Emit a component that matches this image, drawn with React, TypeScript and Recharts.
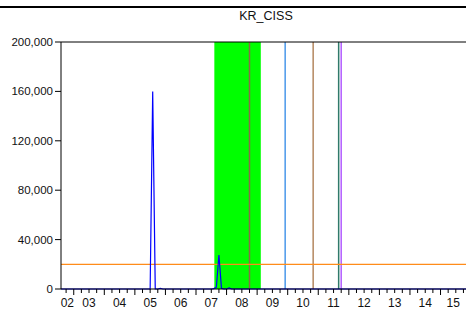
import { Line, LineChart, ReferenceArea, ReferenceLine, XAxis, YAxis } from "recharts";

// monthly series, first observation Aug 2002
const startYear = 2002;
const startMonth = 8;

const krCiss = [
  // 2002 (Aug-Dec)
  0, 0, 0, 0, 0,
  // 2003
  0, 0, 0, 0, 0, 0, 0, 0, 0, 0, 0, 0,
  // 2004
  0, 0, 0, 0, 0, 0, 0, 0, 0, 0, 0, 0,
  // 2005
  0, 0, 0, 0, 0, 0, 0, 160000, 0, 0, 600, 0,
  // 2006
  0, 0, 0, 0, 0, 0, 0, 0, 0, 0, 0, 0,
  // 2007
  0, 0, 0, 0, 0, 0, 0, 300, 1500, 27500, 500, 0,
  // 2008
  0, 900, 0, 0, 0, 0, 0, 0, 0, 0, 0, 0,
  // 2009
  0, 0, 0, 0, 0, 0, 0, 0, 0, 0, 0, 0,
  // 2010
  0, 0, 0, 0, 0, 0, 0, 0, 0, 0, 0, 0,
  // 2011
  0, 0, 0, 0, 0, 0, 0, 0, 0, 0, 0, 0,
  // 2012
  0, 0, 0, 0, 0, 0, 0, 0, 0, 0, 0, 0,
  // 2013
  0, 0, 0, 0, 0, 0, 0, 0, 0, 0, 0, 0,
  // 2014
  0, 0, 0, 0, 0, 0, 0, 0, 0, 0, 0, 0,
  // 2015 (Jan-Nov)
  0, 0, 0, 0, 0, 0, 0, 0, 0, 0, 0,
];

const yearLabels = ["02", "03", "04", "05", "06", "07", "08", "09", "10", "11", "12", "13", "14", "15"];
const yTicks = [0, 40000, 80000, 120000, 160000, 200000];

const threshold = 20000;
const crisisStart = 2007.6;
const crisisEnd = 2009.12;
const eventDates = [2008.75, 2009.917, 2010.833, 2011.667, 2011.75];
const eventColors = ["#8c6a48", "#4a98ea", "#b4875f", "#2f7a6a", "#b25cff"];

const data = krCiss.map((v, i) => ({
  t: startYear + (startMonth - 1 + i) / 12,
  v,
}));

const t0 = data[0].t;
const t1 = data[data.length - 1].t;

const quarterTicks: number[] = [];
for (let q = Math.ceil(t0 * 4); q <= Math.floor(t1 * 4); q++) quarterTicks.push(q / 4);

const labelPos = yearLabels.map((_, i) => {
  const yr = startYear + i;
  return (Math.max(yr, t0) + Math.min(yr + 1, t1)) / 2;
});

const xTicks = Array.from(new Set([...quarterTicks, ...labelPos])).sort((a, b) => a - b);

const near = (a: number, b: number) => Math.abs(a - b) < 1e-6;

function XTick(props: any) {
  const { x, y, payload } = props;
  const v = payload.value as number;
  const isQuarter = near(v * 4, Math.round(v * 4));
  const isYear = near(v, Math.round(v));
  const li = labelPos.findIndex((p) => near(p, v));
  return (
    <g>
      {isQuarter && (
        <line x1={x} x2={x} y1={y} y2={y + (isYear ? 6 : 4)} stroke="#000" strokeWidth={1} />
      )}
      {li >= 0 && (
        <text x={x} y={y + 18} textAnchor="middle" fontSize={12} fill="#111">
          {yearLabels[li]}
        </text>
      )}
    </g>
  );
}

const fmt = (n: number) => n.toLocaleString("en-US");

export default function App() {
  return (
    <div
      style={{
        position: "absolute",
        left: 0,
        top: 0,
        width: 466,
        height: 320,
        background: "#fff",
        fontFamily: "'Liberation Sans', Arial, sans-serif",
      }}
    >
      <div style={{ position: "absolute", left: 0, top: 6, width: 466, height: 2, background: "#000" }} />
      <div
        style={{
          position: "absolute",
          left: 166,
          width: 200,
          top: 9,
          textAlign: "center",
          fontSize: 12.5,
          color: "#111",
        }}
      >
        KR_CISS
      </div>
      <LineChart
        width={466}
        height={320}
        data={data}
        margin={{ top: 42, right: 0, bottom: 0, left: 0 }}
        style={{ position: "absolute", left: 0, top: 0 }}
      >
        <XAxis
          dataKey="t"
          type="number"
          domain={[t0, t1]}
          ticks={xTicks}
          interval={0}
          tick={<XTick />}
          tickSize={0}
          tickMargin={0}
          height={31}
          axisLine={{ stroke: "#000" }}
          allowDataOverflow
        />
        <YAxis
          type="number"
          domain={[0, 200000]}
          ticks={yTicks}
          tickFormatter={fmt}
          width={61}
          tickSize={6}
          tickMargin={2}
          tickLine={{ stroke: "#000" }}
          axisLine={{ stroke: "#000" }}
          tick={{ fill: "#111", fontSize: 11.5 }}
        />
        <ReferenceArea
          x1={crisisStart}
          x2={crisisEnd}
          y1={0}
          y2={200000}
          fill="#00ff00"
          fillOpacity={1}
          stroke="none"
        />
        {eventDates.map((d, i) => (
          <ReferenceLine key={i} x={d} stroke={eventColors[i]} strokeWidth={1.5} />
        ))}
        <ReferenceLine y={threshold} stroke="#ff8c1a" strokeWidth={1.3} />
        <ReferenceLine y={200000} stroke="#000" strokeWidth={1} />
        <Line
          dataKey="v"
          type="linear"
          stroke="#0000ff"
          strokeWidth={1.2}
          dot={false}
          isAnimationActive={false}
        />
      </LineChart>
    </div>
  );
}
